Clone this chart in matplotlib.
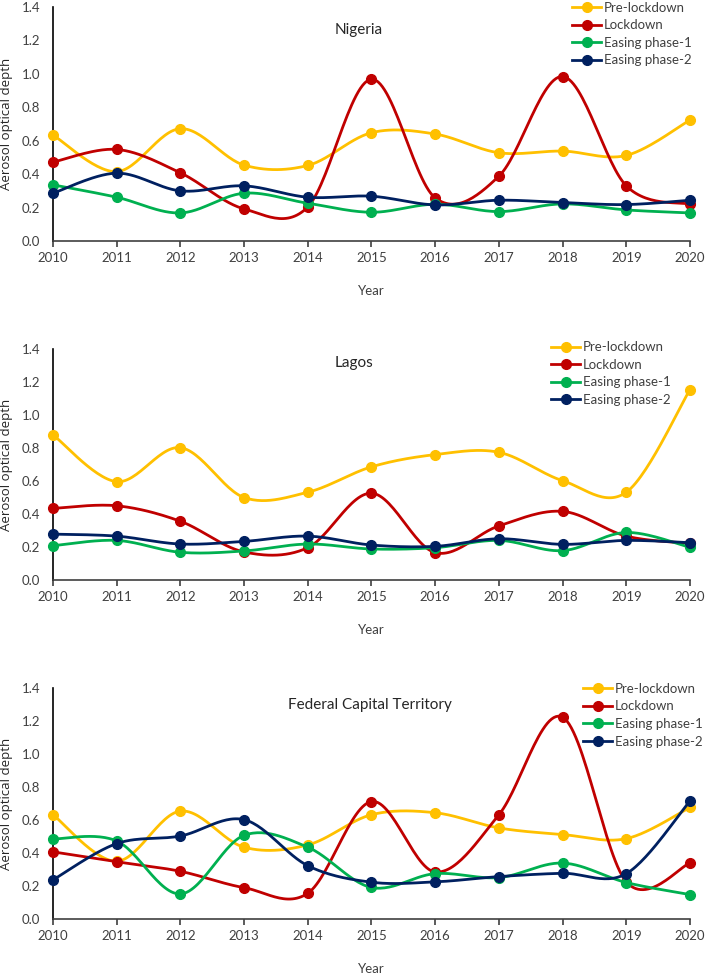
import numpy as np
import matplotlib
matplotlib.use("Agg")
import matplotlib.pyplot as plt
from matplotlib.lines import Line2D

years = [2010, 2011, 2012, 2013, 2014, 2015, 2016, 2017, 2018, 2019, 2020]
series_names = ["Pre-lockdown", "Lockdown", "Easing phase-1", "Easing phase-2"]
colors = ["#FFC000", "#C00000", "#00B050", "#002060"]

# Nigeria
nigeria_pre = [0.634, 0.415, 0.672, 0.454, 0.452, 0.648, 0.640, 0.528, 0.538, 0.512, 0.724]
nigeria_lock = [0.472, 0.548, 0.408, 0.192, 0.204, 0.968, 0.258, 0.388, 0.984, 0.330, 0.220]
nigeria_e1 = [0.336, 0.262, 0.168, 0.286, 0.226, 0.172, 0.220, 0.176, 0.222, 0.186, 0.168]
nigeria_e2 = [0.286, 0.406, 0.300, 0.330, 0.262, 0.268, 0.216, 0.244, 0.230, 0.218, 0.244]

# Lagos
lagos_pre = [0.880, 0.596, 0.802, 0.500, 0.532, 0.686, 0.760, 0.774, 0.602, 0.532, 1.154]
lagos_lock = [0.434, 0.450, 0.356, 0.170, 0.196, 0.526, 0.166, 0.328, 0.416, 0.266, 0.222]
lagos_e1 = [0.208, 0.240, 0.168, 0.176, 0.218, 0.188, 0.196, 0.240, 0.178, 0.288, 0.198]
lagos_e2 = [0.278, 0.266, 0.218, 0.234, 0.266, 0.212, 0.204, 0.250, 0.216, 0.240, 0.226]

# Federal Capital Territory
fct_pre = [0.632, 0.350, 0.654, 0.435, 0.449, 0.632, 0.644, 0.552, 0.512, 0.487, 0.676]
fct_lock = [0.407, 0.347, 0.289, 0.190, 0.156, 0.712, 0.285, 0.632, 1.223, 0.225, 0.339]
fct_e1 = [0.485, 0.473, 0.152, 0.507, 0.435, 0.191, 0.275, 0.251, 0.339, 0.221, 0.148]
fct_e2 = [0.237, 0.457, 0.503, 0.602, 0.323, 0.223, 0.225, 0.257, 0.277, 0.275, 0.716]

panels = [
    ("Nigeria", [nigeria_pre, nigeria_lock, nigeria_e1, nigeria_e2]),
    ("Lagos", [lagos_pre, lagos_lock, lagos_e1, lagos_e2]),
    ("Federal Capital Territory", [fct_pre, fct_lock, fct_e1, fct_e2]),
]

# layout (figure fractions), title positions, legend anchors
axes_rects = [
    [0.0745, 0.7523, 0.896, 0.2405],
    [0.0745, 0.4039, 0.896, 0.2374],
    [0.0745, 0.0555, 0.896, 0.2374],
]
title_pos = [(2014.8, 1.264), (2014.73, 1.314), (2014.98, 1.294)]
legend_anchor = [(0.815, 1.022), (0.782, 1.034), (0.832, 1.022)]


def smooth(x, y, n=30):
    # Excel-style smoothed line (Catmull-Rom as cubic Bezier)
    x = np.asarray(x, float)
    y = np.asarray(y, float)
    px = np.concatenate([[x[0]], x, [x[-1]]])
    py = np.concatenate([[y[0]], y, [y[-1]]])
    t = np.linspace(0, 1, n)[:, None]
    xs, ys = [], []
    for i in range(1, len(px) - 2):
        p0 = np.array([px[i], py[i]])
        p3 = np.array([px[i + 1], py[i + 1]])
        b1 = p0 + (np.array([px[i + 1], py[i + 1]]) - np.array([px[i - 1], py[i - 1]])) / 6
        b2 = p3 - (np.array([px[i + 2], py[i + 2]]) - p0) / 6
        pts = ((1 - t) ** 3) * p0 + 3 * ((1 - t) ** 2) * t * b1 + 3 * (1 - t) * t ** 2 * b2 + t ** 3 * p3
        xs.append(pts[:, 0])
        ys.append(pts[:, 1])
    return np.concatenate(xs), np.concatenate(ys)


fig = plt.figure(figsize=(7.11, 9.73), dpi=100)

for k, (title, data) in enumerate(panels):
    ax = fig.add_axes(axes_rects[k])
    for j, vals in enumerate(data):
        sx, sy = smooth(years, vals)
        ax.plot(sx, sy, color=colors[j], lw=2, clip_on=False, zorder=3 + j,
                solid_capstyle="round")
        ax.plot(years, vals, "o", color=colors[j], ms=7, clip_on=False, zorder=3 + j)

    ax.set_xlim(2010, 2020)
    ax.set_ylim(0, 1.4)
    ax.set_xticks(years)
    ax.set_yticks(np.arange(0, 1.41, 0.2))
    ax.set_yticklabels([f"{v:.1f}" for v in np.arange(0, 1.41, 0.2)])
    for s in ["top", "right"]:
        ax.spines[s].set_visible(False)
    ax.spines["left"].set_color("black")
    ax.spines["bottom"].set_color("#404040")
    ax.spines["left"].set_linewidth(1.2)
    ax.spines["bottom"].set_linewidth(1.2)
    ax.tick_params(axis="y", length=0, pad=9, labelsize=9.5, labelcolor="#404040",
                   labelfontfamily="Lato")
    ax.tick_params(axis="x", length=4, width=1.2, color="#404040", pad=4, labelsize=9.5,
                   labelcolor="#404040", labelfontfamily="Lato")

    ax.set_ylabel("Aerosol optical depth", fontsize=9.5, family="Open Sans", color="#262626")
    ax.yaxis.set_label_coords(-0.062, 0.5)
    ax.set_xlabel("Year", fontsize=9.5, family="Lato", color="#404040")
    ax.xaxis.set_label_coords(0.5, -0.19)

    ax.text(title_pos[k][0], title_pos[k][1], title, ha="center", va="center",
            fontsize=11, family="Lato", color="#262626")

    handles = [Line2D([0], [0], color=c, lw=2, marker="o", ms=7) for c in colors]
    ax.legend(handles, series_names, loc="upper left", bbox_to_anchor=legend_anchor[k],
              frameon=False, borderpad=0, borderaxespad=0, handlelength=2.2,
              handletextpad=0.2, labelspacing=0.42,
              prop={"family": "Lato", "size": 9.5}, labelcolor="#404040")

fig.savefig("out.png", dpi=100)
